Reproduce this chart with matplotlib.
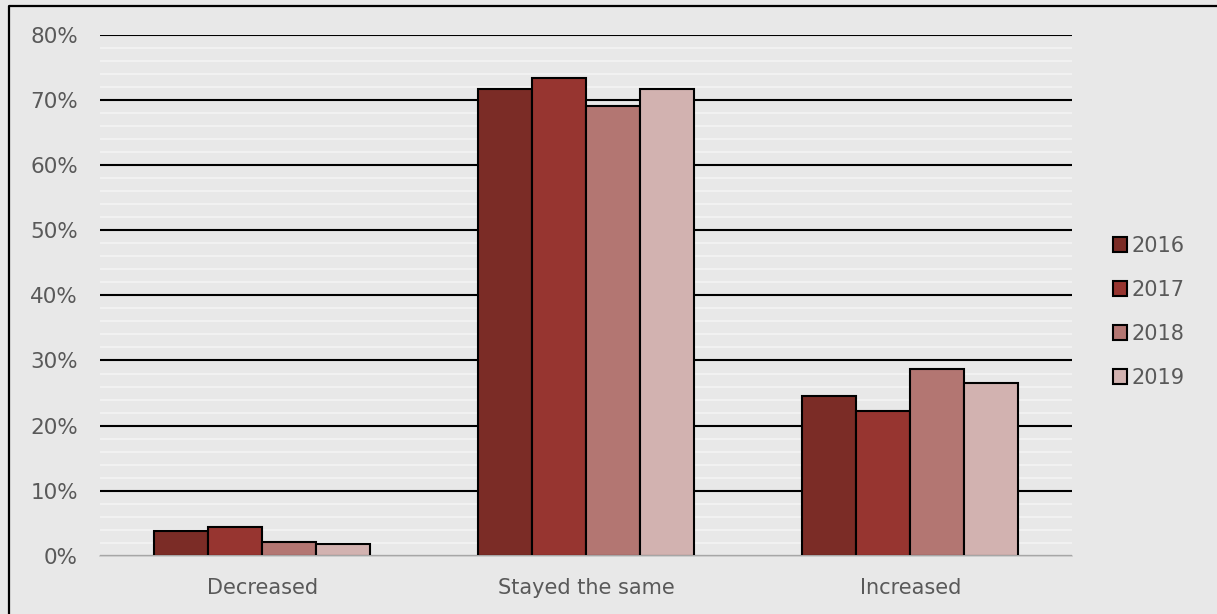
import numpy as np
import matplotlib.pyplot as plt
from matplotlib.lines import Line2D
from matplotlib.ticker import MultipleLocator, PercentFormatter

categorias = ['Decreased', 'Stayed the same', 'Increased']
anios = ['2016', '2017', '2018', '2019']
v2016 = [3.8, 71.6, 24.6]
v2017 = [4.4, 73.4, 22.3]
v2018 = [2.1, 69.1, 28.7]
v2019 = [1.8, 71.7, 26.5]
colores = ['#7B2C26', '#973530', '#B37672', '#D2B2B0']

fondo = '#E8E8E8'
gris = '#595959'

fig = plt.figure(figsize=(12.17, 6.14), dpi=100, facecolor=fondo)
ax = fig.add_axes([0.0822, 0.0945, 0.799, 0.849])
ax.set_facecolor(fondo)

x = np.arange(len(categorias))
ancho = 0.1667
for k, (serie, anio) in enumerate(zip([v2016, v2017, v2018, v2019], anios)):
    ax.bar(x + (k - 1.5) * ancho, serie, ancho, color=colores[k],
           edgecolor='black', linewidth=1.5, label=anio, zorder=3)

ax.set_xlim(-0.5, 2.5)
ax.set_ylim(0, 80)
ax.yaxis.set_major_locator(MultipleLocator(10))
ax.yaxis.set_minor_locator(MultipleLocator(2))
ax.yaxis.set_major_formatter(PercentFormatter(decimals=0))
ax.grid(which='minor', axis='y', color='#F4F4F4', linewidth=1.2, zorder=1)
ax.grid(which='major', axis='y', color='black', linewidth=1.5, zorder=2)
ax.set_xticks(x)
ax.set_xticklabels(categorias)
ax.tick_params(axis='both', which='both', length=0, labelsize=15, colors=gris)
ax.tick_params(axis='y', labelsize=15.5, pad=16)
ax.tick_params(axis='x', pad=16)
for lado in ['top', 'right', 'left']:
    ax.spines[lado].set_visible(False)
ax.spines['bottom'].set_color('#C8C8C8')
ax.spines['bottom'].set_linewidth(1.2)
ax.spines['bottom'].set_zorder(4)

leg = ax.legend(loc='center left', bbox_to_anchor=(1.022, 0.468), frameon=False,
                fontsize=15, handlelength=0.7, handleheight=0.7,
                handletextpad=0.2, labelspacing=1.15)
for t in leg.get_texts():
    t.set_color(gris)

# borde superior e izquierdo
fig.lines.append(Line2D([0.0078, 0.0078, 1.0], [0.0, 0.9895, 0.9895],
                        transform=fig.transFigure, color='black', linewidth=1.6))

plt.savefig('out.png', dpi=100, facecolor=fondo)
